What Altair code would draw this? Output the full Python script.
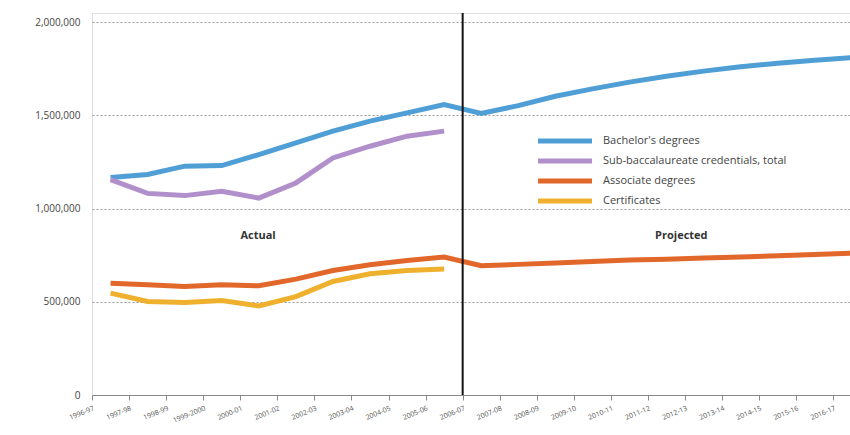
import altair as alt
import pandas as pd

# Academic years on the x axis (tick labels)
years = [
    "1996-97", "1997-98", "1998-99", "1999-2000", "2000-01", "2001-02",
    "2002-03", "2003-04", "2004-05", "2005-06", "2006-07", "2007-08",
    "2008-09", "2009-10", "2010-11", "2011-12", "2012-13", "2013-14",
    "2014-15", "2015-16", "2016-17",
]

# Degrees / credentials awarded per year
bachelors = [
    1167000, 1183000, 1228000, 1231000, 1290000, 1353000, 1416000,
    1470000, 1514000, 1559000, 1511000, 1553000, 1603000, 1643000,
    1679000, 1711000, 1738000, 1762000, 1780000, 1796000, 1810000,
]
sub_bacc = [
    1156000, 1082000, 1070000, 1093000, 1057000, 1138000, 1272000,
    1335000, 1389000, 1416000,
]
associate = [
    600000, 591000, 582000, 591000, 586000, 622000, 668000, 699000,
    722000, 740000, 694000, 701000, 708000, 717000, 724000, 729000,
    735000, 740000, 747000, 754000, 761000,
]
certificates = [
    547000, 502000, 496000, 507000, 478000, 528000, 609000, 651000,
    668000, 676000,
]

series_names = [
    "Bachelor's degrees",
    "Sub-baccalaureate credentials, total",
    "Associate degrees",
    "Certificates",
]
series_values = [bachelors, sub_bacc, associate, certificates]
series_colors = ["#4f9fd6", "#b08fcb", "#e2672a", "#efb02e"]

y_ticks = [0, 500000, 1000000, 1500000, 2000000]

rows = []
for name, vals in zip(series_names, series_values):
    for i, v in enumerate(vals):
        # each year's value sits in the middle of its category
        rows.append({"series": name, "pos": i + 0.5, "value": v})
df = pd.DataFrame(rows)

label_expr = "[" + ",".join(f"'{y}'" for y in years) + "][datum.value]"

x_scale = alt.Scale(domain=[0, 20.45], nice=False, zero=False)
y_scale = alt.Scale(domain=[0, 2050000], nice=False)

lines = alt.Chart(df).mark_line(strokeWidth=5).encode(
    x=alt.X(
        "pos:Q",
        scale=x_scale,
        axis=alt.Axis(
            values=list(range(len(years))),
            tickCount=len(years) + 5,
            labelExpr=label_expr,
            labelOverlap=False,
            labelBound=False,
            title=None,
            grid=False,
            domainColor="#888888",
            tickColor="#888888",
            tickSize=5,
            labelAngle=338,
            labelAlign="right",
            labelBaseline="top",
            labelFontSize=7,
            labelColor="#555555",
            labelPadding=4,
        ),
    ),
    y=alt.Y(
        "value:Q",
        scale=y_scale,
        axis=alt.Axis(
            values=y_ticks,
            format=",d",
            title=None,
            domain=False,
            ticks=False,
            labelPadding=12,
            labelFontSize=10,
            labelColor="#444444",
            gridColor="#9a9a9a",
            gridDash=[2, 2],
            gridWidth=1,
        ),
    ),
    color=alt.Color(
        "series:N",
        scale=alt.Scale(domain=series_names, range=series_colors),
        legend=alt.Legend(
            title=None,
            orient="none",
            legendX=463,
            legendY=118,
            symbolType="M-3.6,0H3.6",
            symbolSize=225,
            symbolStrokeWidth=5,
            labelFontSize=11,
            labelColor="#444444",
            labelOffset=28,
            labelLimit=400,
            rowPadding=-1,
        ),
    ),
    detail="series:N",
)

# Divider between actual and projected years
divider = alt.Chart(pd.DataFrame({"pos": [10]})).mark_rule(
    color="#111111", strokeWidth=2
).encode(x=alt.X("pos:Q", scale=x_scale))

section_labels = pd.DataFrame({
    "pos": [4.48, 15.9],
    "value": [852000, 852000],
    "text": ["Actual", "Projected"],
})
labels = alt.Chart(section_labels).mark_text(
    fontSize=11, fontWeight="bold", color="#333333"
).encode(
    x=alt.X("pos:Q", scale=x_scale),
    y=alt.Y("value:Q", scale=y_scale),
    text="text:N",
)

chart = (
    alt.layer(lines, divider, labels)
    .properties(
        width=758,
        height=382,
        autosize=alt.AutoSizeParams(type="none"),
        padding={"left": 92, "top": 13, "right": 0, "bottom": 40},
    )
    .configure_view(stroke=None)
    .configure_axisX(labelOverlap=False)
    .configure(font="Open Sans", background="white")
)

chart.save("out.html", embed_options={"renderer": "svg", "actions": False})
